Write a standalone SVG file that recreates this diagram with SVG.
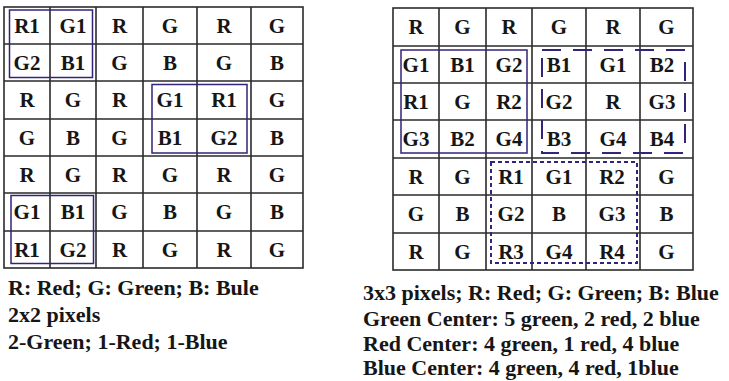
<svg xmlns="http://www.w3.org/2000/svg" width="729" height="381" viewBox="0 0 729 381">
  <style>
    .grid { fill: none; stroke: #2b2b2b; stroke-width: 1.6; }
    .cell { font-family: "Liberation Serif", "Times New Roman", serif; font-weight: bold; font-size: 21px; fill: #161616; text-anchor: middle; }
    .cap { font-family: "Liberation Serif", "Times New Roman", serif; font-weight: bold; font-size: 22px; fill: #161616; }
    .sel { fill: none; stroke: #33237a; stroke-width: 1.5; }
    .sel-long { fill: none; stroke: #33237a; stroke-width: 2; stroke-dasharray: 19 12; }
    .sel-short { fill: none; stroke: #33237a; stroke-width: 2; stroke-dasharray: 4 3; }
  </style>

  <!-- 2x2 Bayer layout -->
  <g id="bayer-2x2">
    <g class="grid">
      <rect x="4" y="7" width="299" height="261"/>
      <path d="M50 7V268M96 7V268M143 7V268M197 7V268M251 7V268"/>
      <path d="M4 44H303M4 81H303M4 119H303M4 156H303M4 193H303M4 231H303"/>
    </g>
    <g class="cell">
      <text x="27" y="33">R1</text><text x="73" y="33">G1</text><text x="119.5" y="33">R</text><text x="170" y="33">G</text><text x="224" y="33">R</text><text x="277" y="33">G</text>
      <text x="27" y="70">G2</text><text x="73" y="70">B1</text><text x="119.5" y="70">G</text><text x="170" y="70">B</text><text x="224" y="70">G</text><text x="277" y="70">B</text>
      <text x="27" y="107">R</text><text x="73" y="107">G</text><text x="119.5" y="107">R</text><text x="170" y="107">G1</text><text x="224" y="107">R1</text><text x="277" y="107">G</text>
      <text x="27" y="144.5">G</text><text x="73" y="144.5">B</text><text x="119.5" y="144.5">G</text><text x="170" y="144.5">B1</text><text x="224" y="144.5">G2</text><text x="277" y="144.5">B</text>
      <text x="27" y="181.5">R</text><text x="73" y="181.5">G</text><text x="119.5" y="181.5">R</text><text x="170" y="181.5">G</text><text x="224" y="181.5">R</text><text x="277" y="181.5">G</text>
      <text x="27" y="219">G1</text><text x="73" y="219">B1</text><text x="119.5" y="219">G</text><text x="170" y="219">B</text><text x="224" y="219">G</text><text x="277" y="219">B</text>
      <text x="27" y="256.5">R1</text><text x="73" y="256.5">G2</text><text x="119.5" y="256.5">R</text><text x="170" y="256.5">G</text><text x="224" y="256.5">R</text><text x="277" y="256.5">G</text>
    </g>
    <g id="blocks-2x2">
      <rect class="sel" x="9.5" y="10" width="83" height="67.5"/>
      <rect class="sel" x="152" y="84.5" width="95" height="68.5"/>
      <rect class="sel" x="11" y="195.5" width="82.5" height="68"/>
    </g>
  </g>

  <!-- 3x3 neighbourhood layout -->
  <g id="bayer-3x3">
    <g class="grid">
      <rect x="393" y="8" width="300" height="262"/>
      <path d="M439 8V270M486 8V270M532 8V270M586 8V270M640 8V270"/>
      <path d="M393 46H693M393 83H693M393 120H693M393 158H693M393 195H693M393 233H693"/>
    </g>
    <g class="cell">
      <text x="416" y="34">R</text><text x="462.5" y="34">G</text><text x="509" y="34">R</text><text x="559" y="34">G</text><text x="613" y="34">R</text><text x="666.5" y="34">G</text>
      <text x="416" y="71.5">G1</text><text x="462.5" y="71.5">B1</text><text x="509" y="71.5">G2</text><text x="559" y="71.5">B1</text><text x="613" y="71.5">G1</text><text x="662" y="71.5">B2</text>
      <text x="416" y="108.5">R1</text><text x="462.5" y="108.5">G</text><text x="509" y="108.5">R2</text><text x="559" y="108.5">G2</text><text x="613" y="108.5">R</text><text x="662" y="108.5">G3</text>
      <text x="416" y="146">G3</text><text x="462.5" y="146">B2</text><text x="509" y="146">G4</text><text x="559" y="146">B3</text><text x="613" y="146">G4</text><text x="662" y="146">B4</text>
      <text x="416" y="183.5">R</text><text x="462.5" y="183.5">G</text><text x="511" y="183.5">R1</text><text x="559" y="183.5">G1</text><text x="612" y="183.5">R2</text><text x="666.5" y="183.5">G</text>
      <text x="416" y="221">G</text><text x="462.5" y="221">B</text><text x="511" y="221">G2</text><text x="559" y="221">B</text><text x="612" y="221">G3</text><text x="666.5" y="221">B</text>
      <text x="416" y="258.5">R</text><text x="462.5" y="258.5">G</text><text x="511" y="258.5">R3</text><text x="559" y="258.5">G4</text><text x="612" y="258.5">R4</text><text x="666.5" y="258.5">G</text>
    </g>
    <g id="blocks-3x3">
      <rect class="sel" x="401" y="50" width="126" height="103"/>
      <rect class="sel-long" x="542" y="50" width="143" height="103"/>
      <rect class="sel-short" x="491" y="162" width="146" height="101"/>
    </g>
  </g>

  <g id="caption-2x2" class="cap">
    <text x="8" y="295">R: Red; G: Green; B: Bule</text>
    <text x="8" y="322">2x2 pixels</text>
    <text x="8" y="349">2-Green; 1-Red; 1-Blue</text>
  </g>

  <g id="caption-3x3" class="cap">
    <text x="363" y="300">3x3 pixels; R: Red; G: Green; B: Blue</text>
    <text x="363" y="326">Green Center: 5 green, 2 red, 2 blue</text>
    <text x="363" y="351">Red Center: 4 green, 1 red, 4 blue</text>
    <text x="363" y="375">Blue Center: 4 green, 4 red, 1blue</text>
  </g>
</svg>
